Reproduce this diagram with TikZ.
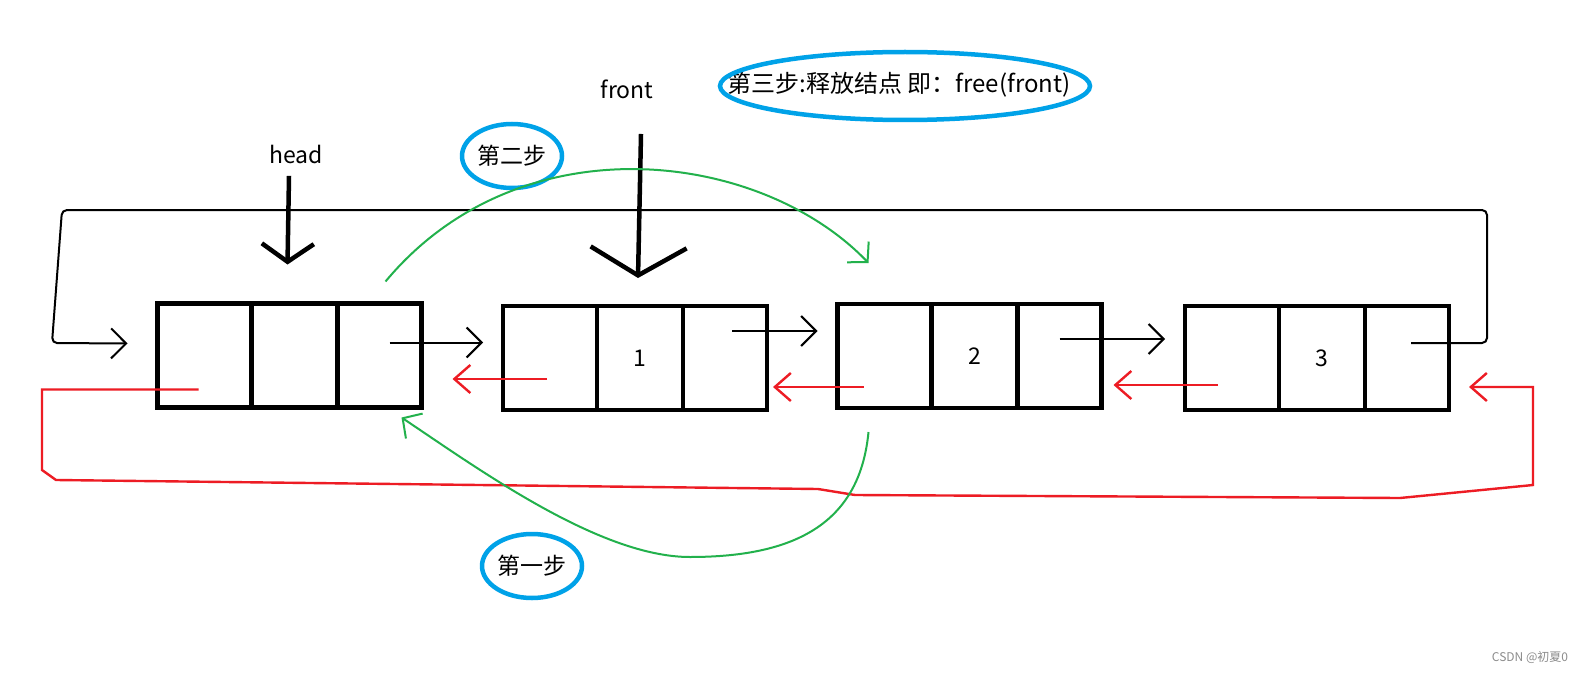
\documentclass[tikz,border=0pt]{standalone}
\usepackage{fontspec}
\newfontfamily\cjk{Noto Sans CJK SC}
\usetikzlibrary{arrows.meta,calc,positioning,shapes.geometric}
\definecolor{paintred}{RGB}{237,28,36}
\definecolor{paintgreen}{RGB}{34,177,76}
\definecolor{paintblue}{RGB}{0,162,232}
\tikzset{
  list cell/.style={rectangle,draw=black,line width=4.2pt,outer sep=0pt,
    inner sep=0pt,minimum height=104pt,font=\cjk\fontsize{23}{27}\selectfont},
  prev cell/.style={list cell,minimum width=94pt},
  data cell/.style={list cell,minimum width=86pt},
  next cell/.style={list cell,minimum width=84pt},
  next edge/.style={-{Straight Barb[length=15pt,width=30pt]},line width=2pt},
  prev edge/.style={-{Straight Barb[length=16pt,width=28pt]},
    paintred,line width=2.4pt},
  phase edge/.style={-{Straight Barb[length=14pt,width=30pt]},
    paintgreen,line width=2pt},
  pointer edge/.style={-{Straight Barb[length=18pt,width=52pt]},
    line width=4.5pt},
  pointer label/.style={font=\cjk\fontsize{23}{27}\selectfont},
  phase label/.style={ellipse,draw=paintblue,line width=4.5pt,
    minimum width=100pt,minimum height=64pt,inner sep=0pt,
    font=\cjk\fontsize{23}{27}\selectfont}
}
\begin{document}
\begin{tikzpicture}[x=1pt,y=-1pt]
  \path[fill=white,use as bounding box] (0,0) rectangle (1586,674);
  \foreach \i/\x/\y/\val in {0/204.5/355.5/{},1/550/358/1,2/884.5/356/2,3/1232/358/3} {
    \node[prev cell] (p\i) at (\x,\y) {};
    \node[data cell,right=0pt of p\i] (d\i) {\val};
    \node[next cell,right=0pt of d\i] (n\i) {};
  }
  \foreach \i/\j/\dx/\dy in {0/1/10/-13,1/2/7/-27,2/3/0/-17}
    \draw[next edge] ($(n\i.center)+(\dx,\dy)$) coordinate (s\i)
      -- ($(s\i -| p\j.west)+(-20,0)$);
  \foreach \i/\j/\dx/\dy/\gap in {1/0/-3/21/31,2/1/-21/31/6,3/2/-14/27/12}
    \draw[prev edge] ($(p\i.center)+(\dx,\dy)$) coordinate (r\i)
      -- ($(r\i -| n\j.east)+(\gap,0)$);
  \coordinate (loopR) at (1487,210);
  \coordinate (loopL) at (62,210);
  \draw[next edge,rounded corners=5pt] ($(n3.center)+(4,-15)$) -| (loopR)
    -- (loopL) -- (52,343) -- ($(p0.west)+(-30,-12)$);
  \coordinate (backL) at (42,470);
  \coordinate (backM) at (56,480);
  \coordinate (backA) at (818,489);
  \coordinate (backB) at (855,495);
  \coordinate (backC) at (1400,498);
  \coordinate (backR) at (1533,485);
  \draw[prev edge] ($(p0.center)+(-6,34)$) -| (backL) -- (backM) -- (backA)
    -- (backB) -- (backC) -- (backR) |- ($(n3.east)+(20,29)$);
  \node[pointer label] (headlbl) at (296,154) {head};
  \node[pointer label] (frontlbl) at (627,89) {front};
  \draw[pointer edge] ($(headlbl.south)+(-7,9)$) -- ($(d0.north)+(-7,-39)$);
  \draw[pointer edge,-{Straight Barb[length=28pt,width=96pt]}]
    ($(frontlbl.south)+(14,32)$) -- ($(d1.north)+(-2,-28)$);
  \node[phase label] (stepone) at (532,566) {第一步};
  \node[phase label] (steptwo) at (512,156) {第二步};
  \node[font=\cjk\fontsize{24}{28}\selectfont] (stepthree) at (899,85)
    {第三步:释放结点 即：free(front)};
  \draw[paintblue,line width=4.5pt] (stepthree.center) ++(6,1)
    ellipse [x radius=185,y radius=34];
  \coordinate (dip) at (690,557);
  \draw[phase edge] ($(p2.south)+(-16,24)$) .. controls (860,520) and (800,557)
    .. (dip) .. controls (600,557) and (480,470) .. ($(n0.south)+(22,10)$);
  \draw[phase edge] ($(n0.north)+(6,-22)$) .. controls (520,120) and (760,150)
    .. ($(p2.north)+(-16,-41)$);
  \node[font=\cjk\fontsize{12}{14}\selectfont,text=black!45] (mark)
    at (1530,657) {CSDN @初夏0};
\end{tikzpicture}
\end{document}
